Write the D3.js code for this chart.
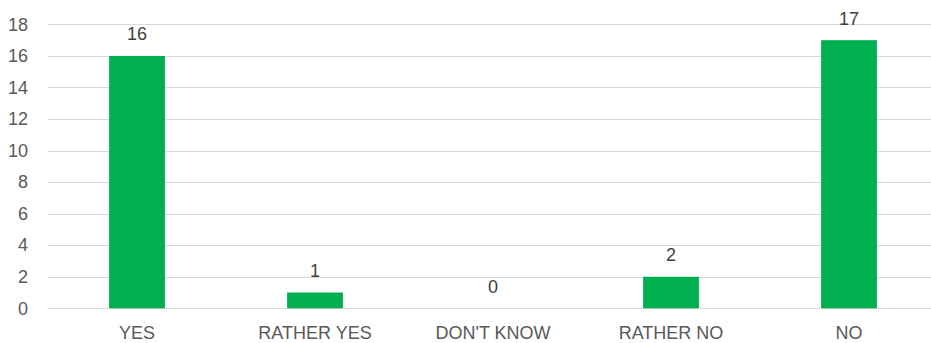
<!DOCTYPE html>
<html>
<head>
<meta charset="utf-8">
<script src="https://cdn.jsdelivr.net/npm/d3@7"></script>
<style>
  html, body { margin: 0; padding: 0; background: #fff; }
  svg { display: block; }
</style>
</head>
<body>
<svg id="chart" width="931" height="343"></svg>
<script>
const categories = ["YES", "RATHER YES", "DON'T KNOW", "RATHER NO", "NO"];
const counts = [16, 1, 0, 2, 17];
const yTicks = [0, 2, 4, 6, 8, 10, 12, 14, 16, 18];

const W = 931, H = 343;
const plot = { left: 48, right: 938, top: 24.4, bottom: 308.3 };
const font = "'Liberation Sans', Arial, sans-serif";

const svg = d3.select("#chart");

const x = d3.scaleBand()
  .domain(categories)
  .range([plot.left, plot.right])
  .paddingInner(0.6865)
  .paddingOuter(0.6865 / 2);

const y = d3.scaleLinear()
  .domain([0, 18])
  .range([plot.bottom, plot.top]);

// horizontal gridlines
svg.append("g")
  .selectAll("line")
  .data(yTicks)
  .join("line")
  .attr("x1", plot.left)
  .attr("x2", plot.right)
  .attr("y1", d => Math.round(y(d)) + 0.5)
  .attr("y2", d => Math.round(y(d)) + 0.5)
  .attr("stroke", "#d9d9d9")
  .attr("stroke-width", 1);

// y-axis labels
const yAxis = d3.axisLeft(y).tickValues(yTicks).tickSize(0).tickPadding(0);
svg.append("g")
  .attr("transform", `translate(${plot.left - 20},0)`)
  .call(yAxis)
  .call(g => g.select(".domain").remove())
  .call(g => g.selectAll("text")
    .attr("font-family", font)
    .attr("font-size", 18)
    .attr("fill", "#595959"));

// bars
svg.append("g")
  .selectAll("rect")
  .data(categories)
  .join("rect")
  .attr("x", d => x(d))
  .attr("width", x.bandwidth())
  .attr("y", (d, i) => y(counts[i]))
  .attr("height", (d, i) => y(0) - y(counts[i]))
  .attr("fill", "#00b050");

// value labels
svg.append("g")
  .selectAll("text")
  .data(categories)
  .join("text")
  .attr("x", d => x(d) + x.bandwidth() / 2)
  .attr("y", (d, i) => y(counts[i]) - 15.5)
  .attr("text-anchor", "middle")
  .attr("font-family", font)
  .attr("font-size", 18)
  .attr("fill", "#404040")
  .text((d, i) => counts[i]);

// category axis labels
const xAxis = d3.axisBottom(x).tickSize(0).tickPadding(0);
svg.append("g")
  .attr("transform", `translate(0,${plot.bottom})`)
  .call(xAxis)
  .call(g => g.select(".domain").remove())
  .call(g => g.selectAll("text")
    .attr("dy", null)
    .attr("y", 30.7)
    .attr("font-family", font)
    .attr("font-size", 18)
    .attr("fill", "#595959"));
</script>
</body>
</html>
